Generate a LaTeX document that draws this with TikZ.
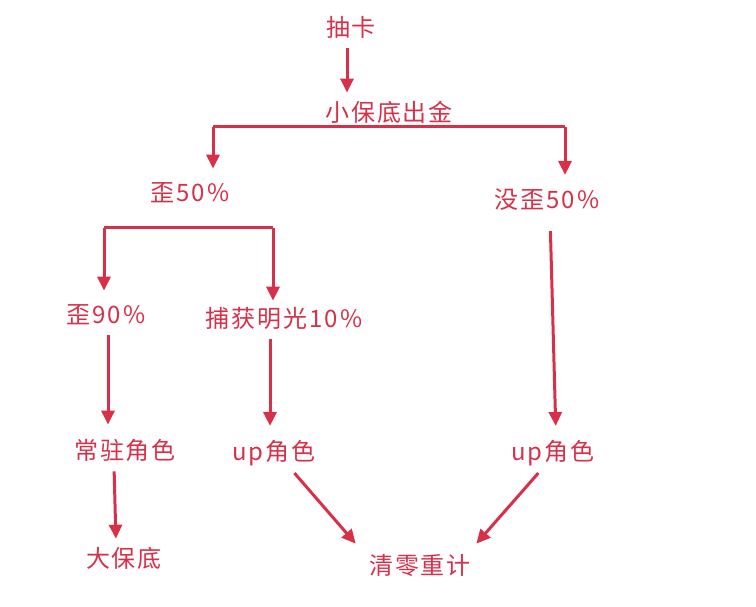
\documentclass[tikz,border=0pt]{standalone}
\usepackage{fontspec}
\newfontfamily\cjk[LetterSpace=8]{Noto Sans CJK SC}
\usetikzlibrary{arrows.meta}
\definecolor{hongse}{HTML}{D9304A}
\begin{document}
\begin{tikzpicture}[x=1pt,y=-1pt,>={Triangle[width=13pt,length=14pt]},
  lbl/.style={text=hongse,font=\cjk\fontsize{24}{26}\selectfont,inner sep=4pt},
  xian/.style={draw=hongse,line width=3pt},
  jt/.style={->,xian,shorten <=6pt,shorten >=10pt}]
\useasboundingbox (0,0) rectangle (756,607);
% labels
\node[lbl] (chouka) at (351,27) {抽卡};
\node[lbl] (xiaobaodi) at (389,112) {小保底出金};
\node[lbl] (wai50) at (190,193) {歪50\%};
\node[lbl] (meiwai) at (547,200) {没歪50\%};
\node[lbl] (wai90) at (106,315) {歪90\%};
\node[lbl] (buhuo) at (284,318) {捕获明光10\%};
\node[lbl] (changzhu) at (125,450) {常驻角色};
\node[lbl] (upl) at (274,453) {up角色};
\node[lbl] (upr) at (553,453) {up角色};
\node[lbl] (dabaodi) at (124,558) {大保底};
\node[lbl] (qingling) at (420,565) {清零重计};
% branch bars
\coordinate (zuo1) at (213,127);
\coordinate (you1) at (565,127);
\coordinate (zuo2) at (104,228);
\coordinate (you2) at (273,228);
\draw[xian] (zuo1) -- (you1);
\draw[xian] (zuo2) -- (you2);
% arrows
\draw[jt,shorten >=4pt] ([xshift=-4pt]chouka.south) -- ([xshift=-4pt]chouka.south |- xiaobaodi.north);
\draw[jt,shorten <=0pt] (zuo1) -- (zuo1 |- wai50.north);
\draw[jt,shorten <=0pt] (you1) -- (you1 |- meiwai.north);
\draw[jt,shorten <=0pt] (zuo2) -- (zuo2 |- wai90.north);
\draw[jt,shorten <=0pt,shorten >=2pt] (you2) -- (you2 |- buhuo.north);
\draw[jt,shorten <=16pt] ([xshift=3pt]meiwai.south) -- ([xshift=3pt]upr.north);
\draw[jt] ([xshift=2pt]wai90.south) -- ([xshift=-17pt]changzhu.north);
\draw[jt] ([xshift=-14pt]buhuo.south) -- ([xshift=-4pt]upl.north);
\draw[jt,shorten >=4pt] ([xshift=-11pt]changzhu.south) -- ([xshift=-8pt]dabaodi.north);
\draw[jt,shorten <=4pt,shorten >=8pt] ([xshift=-28pt]upl.south east) -- ([xshift=-4pt]qingling.north west);
\draw[jt,shorten <=4pt,shorten >=8pt] ([xshift=-12pt]upr.south) -- ([xshift=-4pt]qingling.north east);
\end{tikzpicture}
\end{document}
